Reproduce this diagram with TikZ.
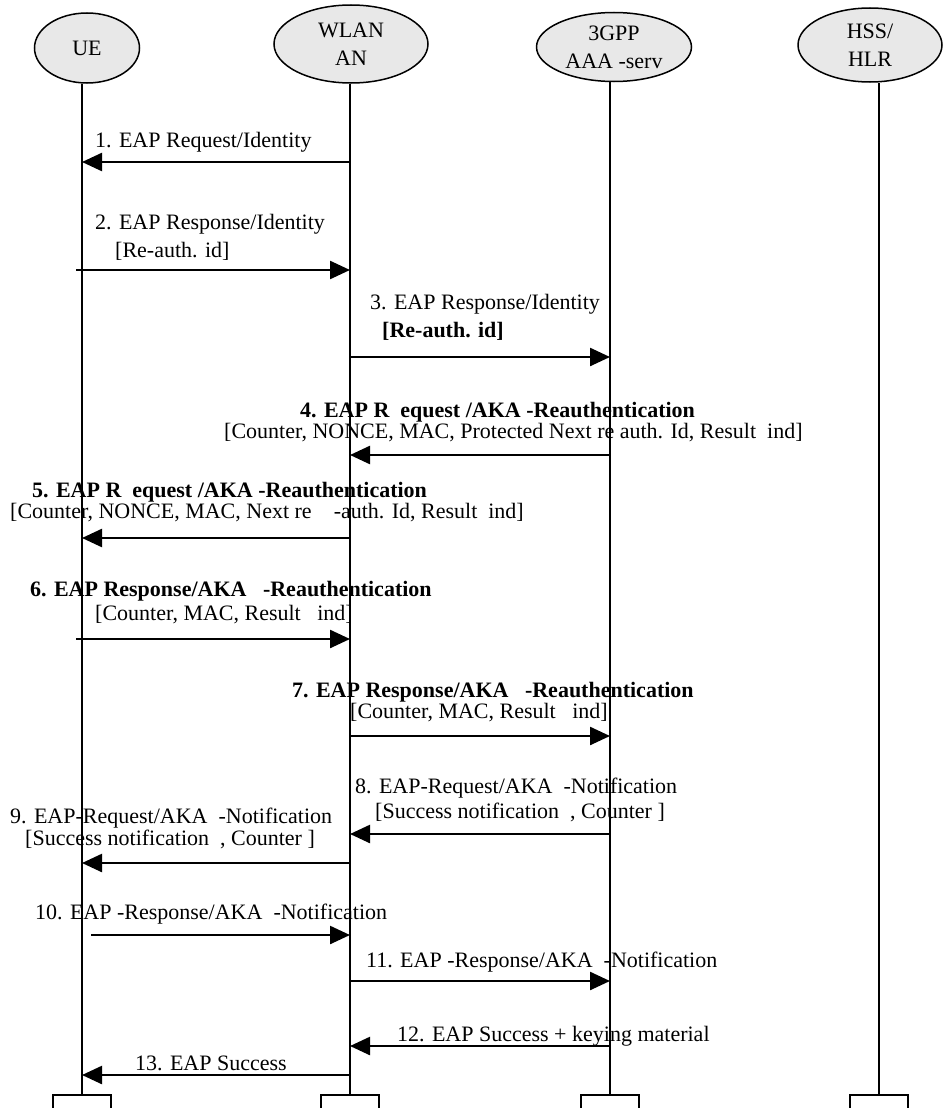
\documentclass[tikz,border=0pt]{standalone}
\usepackage{fontspec}
\setmainfont{Liberation Serif}
\usetikzlibrary{arrows.meta,shapes.geometric}
\begin{document}
\begin{tikzpicture}[x=1pt,y=-1pt,
  every node/.style={font=\fontsize{22}{26}\selectfont},
  actor/.style={ellipse, draw, fill=black!9, line width=1.5pt, inner sep=0pt,
    align=center, font=\fontsize{22}{28}\selectfont},
  lifeline/.style={line width=2pt},
  endbox/.style={draw, line width=1.8pt, minimum width=58pt, minimum height=40pt,
    anchor=north, inner sep=0pt},
  msg/.style={line width=2.4pt, -{Triangle[length=20pt,width=18pt]}},
  lbl/.style={anchor=base west, inner sep=0pt},
  blbl/.style={lbl, font=\fontsize{22}{26}\selectfont\bfseries}]

\useasboundingbox (0,0) rectangle (944,1108);
\clip (0,0) rectangle (944,1108);
\fill[white] (0,0) rectangle (944,1108);

% entities
\node[actor, minimum width=105pt, minimum height=70pt] (ue)   at (87,48)  {UE};
\node[actor, minimum width=154pt, minimum height=78pt] (wlan) at (351,44) {WLAN\\AN};
\node[actor, minimum width=155pt, minimum height=69pt] (aaa)  at (614,47) {3GPP\\AAA -serv};
\node[actor, minimum width=144pt, minimum height=74pt] (hss)  at (870,45) {HSS/\\HLR};

% end boxes
\node[endbox] (ueend)   at (82,1094)  {};
\node[endbox] (wlanend) at (350,1094) {};
\node[endbox] (aaaend)  at (610,1094) {};
\node[endbox] (hssend)  at (879,1094) {};

% lifelines
\draw[lifeline] (ueend.north)   -- (ueend.north |- ue.south);
\draw[lifeline] (wlanend.north) -- (wlanend.north |- wlan.south);
\draw[lifeline] (aaaend.north)  -- (aaaend.north |- aaa.south);
\draw[lifeline] (hssend.north)  -- (hssend.north |- hss.south);

% 1
\node[lbl] (l1) at (95,147) {1. EAP Request/Identity};
\draw[msg] (wlanend.north |- 0,162) -- (ueend.north |- 0,162);
% 2
\node[lbl] (l2a) at (95,229) {2. EAP Response/Identity};
\node[lbl] (l2b) at (115,257) {[Re-auth. id]};
\draw[msg] ([xshift=-6pt]ueend.north |- 0,270) -- (wlanend.north |- 0,270);
% 3
\node[lbl] (l3a) at (370,309) {3. EAP Response/Identity};
\node[blbl] (l3b) at (382,337) {[Re-auth. id]};
\draw[msg] (wlanend.north |- 0,357) -- (aaaend.north |- 0,357);
% 4
\node[blbl] (l4a) at (300,417) {4. EAP R\ \ equest /AKA -Reauthentication};
\node[lbl] (l4b) at (224,438) {[Counter, NONCE, MAC, Protected Next re auth. Id, Result\ \ ind]};
\draw[msg] (aaaend.north |- 0,455) -- (wlanend.north |- 0,455);
% 5
\node[blbl] (l5a) at (32,497) {5. EAP R\ \ equest /AKA -Reauthentication};
\node[lbl] (l5b) at (10,518) {[Counter, NONCE, MAC, Next re\ \ \ \ -auth. Id, Result\ \ ind]};
\draw[msg] (wlanend.north |- 0,538) -- (ueend.north |- 0,538);
% 6
\node[blbl] (l6a) at (30,596) {6. EAP Response/AKA\ \ \ -Reauthentication};
\node[lbl] (l6b) at (95,620) {[Counter, MAC, Result\ \ \ ind]};
\draw[msg] ([xshift=-6pt]ueend.north |- 0,639) -- (wlanend.north |- 0,639);
% 7
\node[blbl] (l7a) at (292,697) {7. EAP Response/AKA\ \ \ -Reauthentication};
\node[lbl] (l7b) at (350,718) {[Counter, MAC, Result\ \ \ ind]};
\draw[msg] (wlanend.north |- 0,736) -- (aaaend.north |- 0,736);
% 8
\node[lbl] (l8a) at (355,793) {8. EAP-Request/AKA\ \ -Notification};
\node[lbl] (l8b) at (375,818) {[Success notification\ \ , Counter ]};
\draw[msg] (aaaend.north |- 0,834) -- (wlanend.north |- 0,834);
% 9
\node[lbl] (l9a) at (10,823) {9. EAP-Request/AKA\ \ -Notification};
\node[lbl] (l9b) at (25,845) {[Success notification\ \ , Counter ]};
\draw[msg] (wlanend.north |- 0,863) -- (ueend.north |- 0,863);
% 10
\node[lbl] (l10) at (35,919) {10. EAP -Response/AKA\ \ -Notification};
\draw[msg] ([xshift=9pt]ueend.north |- 0,935) -- (wlanend.north |- 0,935);
% 11
\node[lbl] (l11) at (366,967) {11. EAP -Response/AKA\ \ -Notification};
\draw[msg] (wlanend.north |- 0,981) -- (aaaend.north |- 0,981);
% 12
\node[lbl] (l12) at (397,1041) {12. EAP Success + keying material};
\draw[msg] (aaaend.north |- 0,1046) -- (wlanend.north |- 0,1046);
% 13
\node[lbl] (l13) at (135,1070) {13. EAP Success};
\draw[msg] (wlanend.north |- 0,1075) -- (ueend.north |- 0,1075);
\end{tikzpicture}
\end{document}
